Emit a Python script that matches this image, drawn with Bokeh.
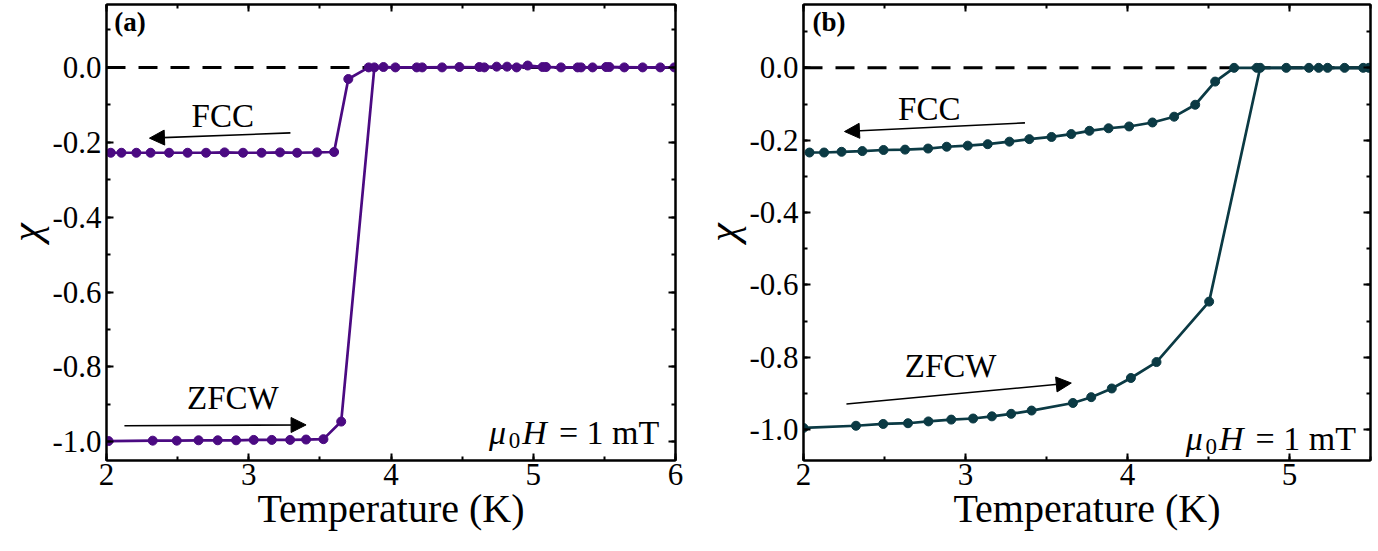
from bokeh.plotting import figure
from bokeh.models import (Range1d, LinearAxis, SingleIntervalTicker, PrintfTickFormatter,
                          Label, Arrow, NormalHead, Span, CustomLabelingPolicy)
from bokeh.layouts import row
from bokeh.embed import file_html
from bokeh.resources import INLINE

FONT = "Liberation Serif"

# ---------------- data: panel (a) ----------------
A_FCC_T = [2.03, 2.105, 2.21, 2.31, 2.44, 2.57, 2.70, 2.83, 2.96, 3.09, 3.22, 3.34, 3.48, 3.60,
           3.70,
           3.843, 3.947, 4.031, 4.181, 4.359, 4.621, 4.743, 4.883, 5.066, 5.195, 5.312, 5.417,
           5.535, 5.769, 5.992]
A_FCC_CHI = [-0.228, -0.228, -0.228, -0.228, -0.228, -0.228, -0.228, -0.227, -0.228, -0.228,
             -0.227, -0.228, -0.227, -0.226,
             -0.031,
             0.0, 0.001, 0.0, 0.0, 0.0, 0.001, 0.002, 0.0, 0.001, 0.0, 0.0, 0.0,
             0.001, 0.0, 0.0]
A_ZFCW_T = [2.014, 2.325, 2.494, 2.647, 2.782, 2.911, 3.035, 3.162, 3.291, 3.403, 3.525, 3.650,
            3.883, 4.219, 4.481, 4.656, 4.816, 4.961, 5.090, 5.336, 5.512, 5.640, 5.893]
A_ZFCW_CHI = [-0.998, -0.997, -0.997, -0.996, -0.996, -0.996, -0.995, -0.995, -0.995, -0.994,
              -0.993, -0.946,
              0.0, 0.0, 0.001, 0.0, 0.002, 0.005, 0.001, 0.0, 0.001, 0.0, 0.0]

# ---------------- data: panel (b) ----------------
B_FCC_T = [2.037, 2.127, 2.235, 2.363, 2.494, 2.627, 2.769, 2.884, 3.014, 3.137, 3.271, 3.394,
           3.531, 3.653, 3.765, 3.883, 4.010, 4.154, 4.288, 4.418, 4.541, 4.658, 4.798, 4.980,
           5.180, 5.340, 5.490]
B_FCC_CHI = [-0.234, -0.234, -0.232, -0.230, -0.227, -0.226, -0.223, -0.218, -0.215, -0.211,
             -0.204, -0.197, -0.191, -0.183, -0.174, -0.167, -0.162, -0.151, -0.135, -0.102,
             -0.038, 0.0, 0.0, 0.0, 0.0, 0.0, 0.0]
B_ZFCW_T = [2.000, 2.324, 2.492, 2.645, 2.771, 2.912, 3.047, 3.163, 3.282, 3.408, 3.663, 3.776,
            3.903, 4.021, 4.179, 4.504, 4.819, 5.120, 5.235, 5.455]
B_ZFCW_CHI = [-0.995, -0.989, -0.984, -0.982, -0.977, -0.972, -0.969, -0.963, -0.956, -0.947,
              -0.926, -0.910, -0.886, -0.857, -0.813, -0.646, 0.0, 0.0, 0.0, 0.0]

X_LABEL = "Temperature (K)"
Y_LABEL = "χ"
FIELD_TEXT = "= 1 mT"

COLOR_A = "#4B0A82"
COLOR_B = "#0B3A44"

TICK_FS = "31px"
NO_LABELS = "if (false) { yield 0 }"


def style_axis(ax, show_labels=True):
    ax.axis_line_width = 2
    ax.axis_line_color = "black"
    ax.major_tick_in = 7
    ax.major_tick_out = 0
    ax.minor_tick_in = 4
    ax.minor_tick_out = 0
    ax.major_tick_line_width = 2
    ax.minor_tick_line_width = 2
    ax.major_label_text_font = FONT
    ax.major_label_text_color = "black"
    if show_labels:
        ax.major_label_text_font_size = TICK_FS
    else:
        ax.major_label_text_font_size = "1px"
        ax.major_label_standoff = 0
        ax.major_label_policy = CustomLabelingPolicy(code=NO_LABELS)


def make_panel(frame_w, left, right, xr, yr, color, fcc, zfcw, tag, fcc_arrow, zf_arrow,
               fcc_txt, zf_txt, field_xy):
    p = figure(frame_width=frame_w, frame_height=456, x_range=Range1d(*xr),
               y_range=Range1d(*yr), output_backend="svg", toolbar_location=None,
               min_border_left=left, min_border_right=right, min_border_top=1,
               min_border_bottom=60)
    p.grid.visible = False
    p.outline_line_color = "black"
    p.outline_line_width = 2
    p.background_fill_color = "white"
    p.border_fill_color = "white"

    xt = SingleIntervalTicker(interval=1, num_minor_ticks=2)
    yt = SingleIntervalTicker(interval=0.2, num_minor_ticks=2)
    p.xaxis.ticker = xt
    p.yaxis.ticker = yt
    p.xaxis.formatter = PrintfTickFormatter(format="%d")
    p.yaxis.formatter = PrintfTickFormatter(format="%.1f")
    style_axis(p.xaxis[0])
    style_axis(p.yaxis[0])
    p.xaxis.major_label_standoff = 3
    p.yaxis.major_label_standoff = 5
    p.xaxis.axis_label = X_LABEL
    p.yaxis.axis_label = Y_LABEL
    for ax, fs, st, so in ((p.xaxis, "40px", "normal", -2), (p.yaxis, "42px", "italic", 0)):
        ax.axis_label_text_font = FONT
        ax.axis_label_text_font_size = fs
        ax.axis_label_text_font_style = st
        ax.axis_label_text_color = "black"
        ax.axis_label_standoff = so

    top = LinearAxis(ticker=xt)
    style_axis(top, False)
    p.add_layout(top, "above")
    rgt = LinearAxis(ticker=yt)
    style_axis(rgt, False)
    p.add_layout(rgt, "right")

    p.add_layout(Span(location=0, dimension="width", line_color="black", line_width=3,
                      line_dash="19 13", level="underlay"))

    for xs, ys in (fcc, zfcw):
        p.line(xs, ys, line_color=color, line_width=2.7)
        p.scatter(xs, ys, size=9, fill_color=color, line_color=color)

    for (x0, y0, x1, y1) in (fcc_arrow, zf_arrow):
        p.add_layout(Arrow(x_start=x0, y_start=y0, x_end=x1, y_end=y1, line_width=1.6,
                           line_color="black",
                           end=NormalHead(size=15, fill_color="black", line_color="black")))

    for (txt, (x, y)) in (("FCC", fcc_txt), ("ZFCW", zf_txt)):
        p.add_layout(Label(x=x, y=y, text=txt, text_font=FONT, text_font_size="33px",
                           text_align="center", text_baseline="middle", text_color="black"))

    p.add_layout(Label(x=xr[0] + 0.055, y=yr[1] - 0.006, text=tag, text_font=FONT,
                       text_font_size="27px", text_font_style="bold", text_align="left",
                       text_baseline="top", text_color="black"))

    fx, fy = field_xy
    fs = 34
    p.add_layout(Label(x=fx, y=fy, text=FIELD_TEXT, text_font=FONT, text_font_size="%dpx" % fs,
                       text_align="right", text_baseline="alphabetic", text_color="black"))
    off_h = -(2.953 * fs + 12)
    p.add_layout(Label(x=fx, y=fy, text="H", text_font=FONT, text_font_size="%dpx" % fs,
                       text_font_style="italic", text_align="right", text_baseline="alphabetic",
                       x_offset=off_h, text_color="black"))
    off_0 = off_h - 0.78 * fs
    p.add_layout(Label(x=fx, y=fy, text="0", text_font=FONT, text_font_size="%dpx" % int(fs * 0.68),
                       text_align="right", text_baseline="alphabetic",
                       x_offset=off_0, y_offset=-8, text_color="black"))
    off_mu = off_0 - 0.36 * fs - 2
    p.add_layout(Label(x=fx, y=fy, text="μ", text_font=FONT, text_font_size="%dpx" % fs,
                       text_font_style="italic", text_align="right", text_baseline="alphabetic",
                       x_offset=off_mu, text_color="black"))
    return p


pa = make_panel(569, 99, 22, (2, 6), (-1.05, 0.168), COLOR_A,
                (A_FCC_T, A_FCC_CHI), (A_ZFCW_T, A_ZFCW_CHI), "(a)",
                (3.293, -0.175, 2.302, -0.189), (2.126, -0.957, 3.403, -0.955),
                (2.817, -0.131), (2.888, -0.882), (5.886, -0.975))
pb = make_panel(567, 104, 1, (2, 5.5), (-1.085, 0.175), COLOR_B,
                (B_FCC_T, B_FCC_CHI), (B_ZFCW_T, B_ZFCW_CHI), "(b)",
                (3.367, -0.152, 2.253, -0.176), (2.265, -0.929, 3.653, -0.871),
                (2.776, -0.114), (2.908, -0.825), (5.41, -1.025))

layout = row(pa, pb, spacing=0)
open("out.html", "w").write(file_html(layout, INLINE))
